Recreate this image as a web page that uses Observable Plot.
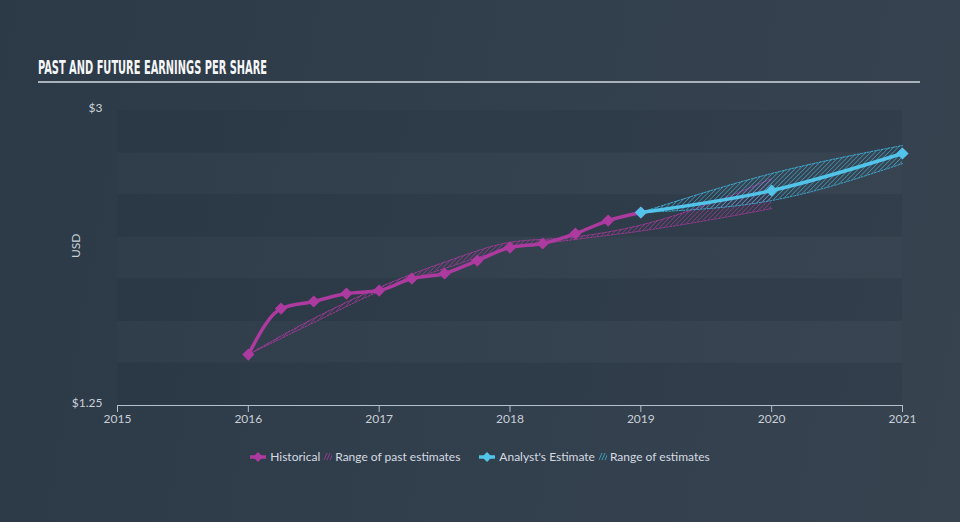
<!DOCTYPE html>
<html>
<head>
<meta charset="utf-8">
<script src="https://cdn.jsdelivr.net/npm/d3@7"></script>
<script src="https://cdn.jsdelivr.net/npm/@observablehq/plot@0.6"></script>
<style>
  html, body { margin: 0; padding: 0; }
  #root {
    position: relative; width: 960px; height: 522px; overflow: hidden;
    background: linear-gradient(100deg, #2c3947 0%, #323f4d 55%, #37434f 100%);
    font-family: Lato, "Open Sans", sans-serif;
  }
  #title {
    position: absolute; left: 38px; top: 55px; white-space: nowrap;
    font-family: "Liberation Sans Narrow", "DejaVu Sans Condensed", sans-serif;
    font-weight: bold; font-size: 20px; color: #f4f6f8; letter-spacing: 0;
    transform-origin: left top;
  }
  #rule { position: absolute; left: 38px; top: 81px; width: 882px; height: 2px; background: #a9b1ba; }
  #chart { position: absolute; left: 0; top: 90px; }
  #legend {
    position: absolute; top: 449px; left: 0; width: 960px; display: flex; justify-content: center;
    align-items: center; font-size: 12px; color: #d5dbe1; gap: 0;
  }
  #legend .item { display: flex; align-items: center; }
  #legend svg { display: block; }
</style>
</head>
<body>
<div id="root">
  <div id="title">PAST AND FUTURE EARNINGS PER SHARE</div>
  <div id="rule"></div>
  <div id="chart"></div>
  <div id="legend"></div>
</div>
<script>
// ---- data ----
const histYears = [2016, 2016.25, 2016.5, 2016.75, 2017, 2017.25, 2017.5, 2017.75, 2018, 2018.25, 2018.5, 2018.75, 2019];
const histEPS   = [1.552, 1.825, 1.867, 1.914, 1.932, 2.003, 2.033, 2.11, 2.187, 2.211, 2.27, 2.347, 2.395];

const estYears = [2019, 2020, 2021];
const estEPS   = [2.395, 2.525, 2.745];
const estLow   = [2.395, 2.466, 2.685];
const estHigh  = [2.395, 2.626, 2.792];

const pastYears = [2016, 2016.5, 2017, 2017.5, 2018, 2018.5, 2019, 2019.5, 2020];
const pastLow   = [1.552, 1.742, 1.926, 2.063, 2.181, 2.235, 2.285, 2.347, 2.418];
const pastHigh  = [1.552, 1.766, 1.950, 2.100, 2.218, 2.250, 2.320, 2.440, 2.596];

const bandEdges = [1.25, 1.5, 1.75, 2.0, 2.25, 2.5, 2.75, 3.0];
const xTicks = [2015, 2016, 2017, 2018, 2019, 2020, 2021];
const yTicks = [1.25, 3];

const MAGENTA = "#ad3a9f";
const CYAN = "#52c3e9";

// ---- tables ----
const hist = histYears.map((x, i) => ({x, y: histEPS[i]}));
const est = estYears.map((x, i) => ({x, y: estEPS[i], lo: estLow[i], hi: estHigh[i]}));
const past = pastYears.map((x, i) => ({x, lo: pastLow[i], hi: pastHigh[i]}));
const bands = bandEdges.slice(0, -1).map((lo, i) => ({lo, hi: bandEdges[i + 1], dark: i % 2 === 0}));

const chart = Plot.plot({
  width: 960,
  height: 350,
  marginTop: 20,
  marginBottom: 35,
  marginLeft: 117,
  marginRight: 58,
  style: {background: "transparent", color: "#c5ccd4", fontFamily: "Lato, 'Open Sans', sans-serif", fontSize: "12px"},
  x: {domain: [2015, 2021]},
  y: {domain: [1.25, 3]},
  marks: [
    Plot.rect(bands.filter(d => d.dark), {y1: "lo", y2: "hi", fill: "#1f2a36", fillOpacity: 0.16}),
    Plot.rect(bands.filter(d => !d.dark), {y1: "lo", y2: "hi", fill: "#ffffff", fillOpacity: 0.012}),
    Plot.ruleY([yTicks[0]], {stroke: "#b4c0cc", strokeWidth: 1.2}),
    Plot.axisX({ticks: xTicks, tickFormat: d => String(d), tickSize: 7, tickPadding: 2, stroke: "#b4c0cc", fill: "#c9d0d7", label: null}),
    Plot.axisY({ticks: yTicks, tickFormat: d => "$" + d, tickSize: 0, tickPadding: 15, dy: -2, fill: "#c9d0d7", label: null}),
    Plot.text(["USD"], {frameAnchor: "left", dx: -41, rotate: -90, fill: "#c9d0d7", fontSize: 12}),
    // past estimates range
    Plot.areaY(past, {x: "x", y1: "lo", y2: "hi", curve: "monotone-x", fill: "url(#hatchM)"}),
    Plot.line(past, {x: "x", y: "lo", curve: "monotone-x", stroke: MAGENTA, strokeWidth: 0.9, strokeDasharray: "2,1.5"}),
    Plot.line(past, {x: "x", y: "hi", curve: "monotone-x", stroke: MAGENTA, strokeWidth: 0.9, strokeDasharray: "2,1.5"}),
    // analyst estimate range
    Plot.areaY(est, {x: "x", y1: "lo", y2: "hi", curve: "monotone-x", fill: "url(#hatchC)"}),
    Plot.line(est, {x: "x", y: "lo", curve: "monotone-x", stroke: "#3fb3dc", strokeWidth: 0.9, strokeDasharray: "2,1.5"}),
    Plot.line(est, {x: "x", y: "hi", curve: "monotone-x", stroke: "#3fb3dc", strokeWidth: 0.9, strokeDasharray: "2,1.5"}),
    // historical
    Plot.line(hist, {x: "x", y: "y", curve: "monotone-x", stroke: MAGENTA, strokeWidth: 3.5}),
    Plot.dot(hist, {x: "x", y: "y", symbol: "diamond2", r: 5.5, fill: MAGENTA, stroke: "none"}),
    // analyst estimate
    Plot.line(est, {x: "x", y: "y", curve: "monotone-x", stroke: CYAN, strokeWidth: 3.5}),
    Plot.dot(est, {x: "x", y: "y", symbol: "diamond2", r: 5.5, fill: CYAN, stroke: "none"})
  ]
});

// hatch patterns
const defs = d3.select(chart).insert("defs", ":first-child");
function hatch(id, color) {
  const p = defs.append("pattern").attr("id", id).attr("patternUnits", "userSpaceOnUse")
    .attr("width", 3.2).attr("height", 3.2).attr("patternTransform", "rotate(45)");
  p.append("line").attr("x1", 0).attr("y1", 0).attr("x2", 0).attr("y2", 3.2)
    .attr("stroke", color).attr("stroke-width", 1.1);
}
hatch("hatchM", MAGENTA);
hatch("hatchC", "#3fb3dc");

document.getElementById("chart").appendChild(chart);

// title width fit (condensed display face)
const title = document.getElementById("title");
const w = title.getBoundingClientRect().width;
title.style.transform = `scaleX(${229 / w})`;

// legend
const legendItems = [
  {kind: "line", color: MAGENTA, text: "Historical"},
  {kind: "hatch", color: MAGENTA, text: "Range of past estimates"},
  {kind: "line", color: CYAN, text: "Analyst's Estimate"},
  {kind: "hatch", color: "#3fb3dc", text: "Range of estimates"}
];
const legend = d3.select("#legend");
legendItems.forEach((it, i) => {
  const item = legend.append("div").attr("class", "item")
    .style("margin-left", i === 2 ? "19px" : (i === 0 ? "0" : "3px"));
  if (it.kind === "line") {
    const s = item.append("svg").attr("width", 16).attr("height", 12).style("margin-right", "4px");
    s.append("line").attr("x1", 0).attr("x2", 16).attr("y1", 6).attr("y2", 6).attr("stroke", it.color).attr("stroke-width", 3.5);
    s.append("path").attr("d", "M8,1L13,6L8,11L3,6Z").attr("fill", it.color);
  } else {
    const s = item.append("svg").attr("width", 9).attr("height", 9).style("margin-right", "3px");
    for (let k = 0; k < 3; k++) {
      s.append("line").attr("x1", 1 + k * 3).attr("y1", 8).attr("x2", 4 + k * 3).attr("y2", 1)
        .attr("stroke", it.color).attr("stroke-width", 1).attr("opacity", 0.8);
    }
  }
  item.append("span").text(it.text);
});
</script>
</body>
</html>
